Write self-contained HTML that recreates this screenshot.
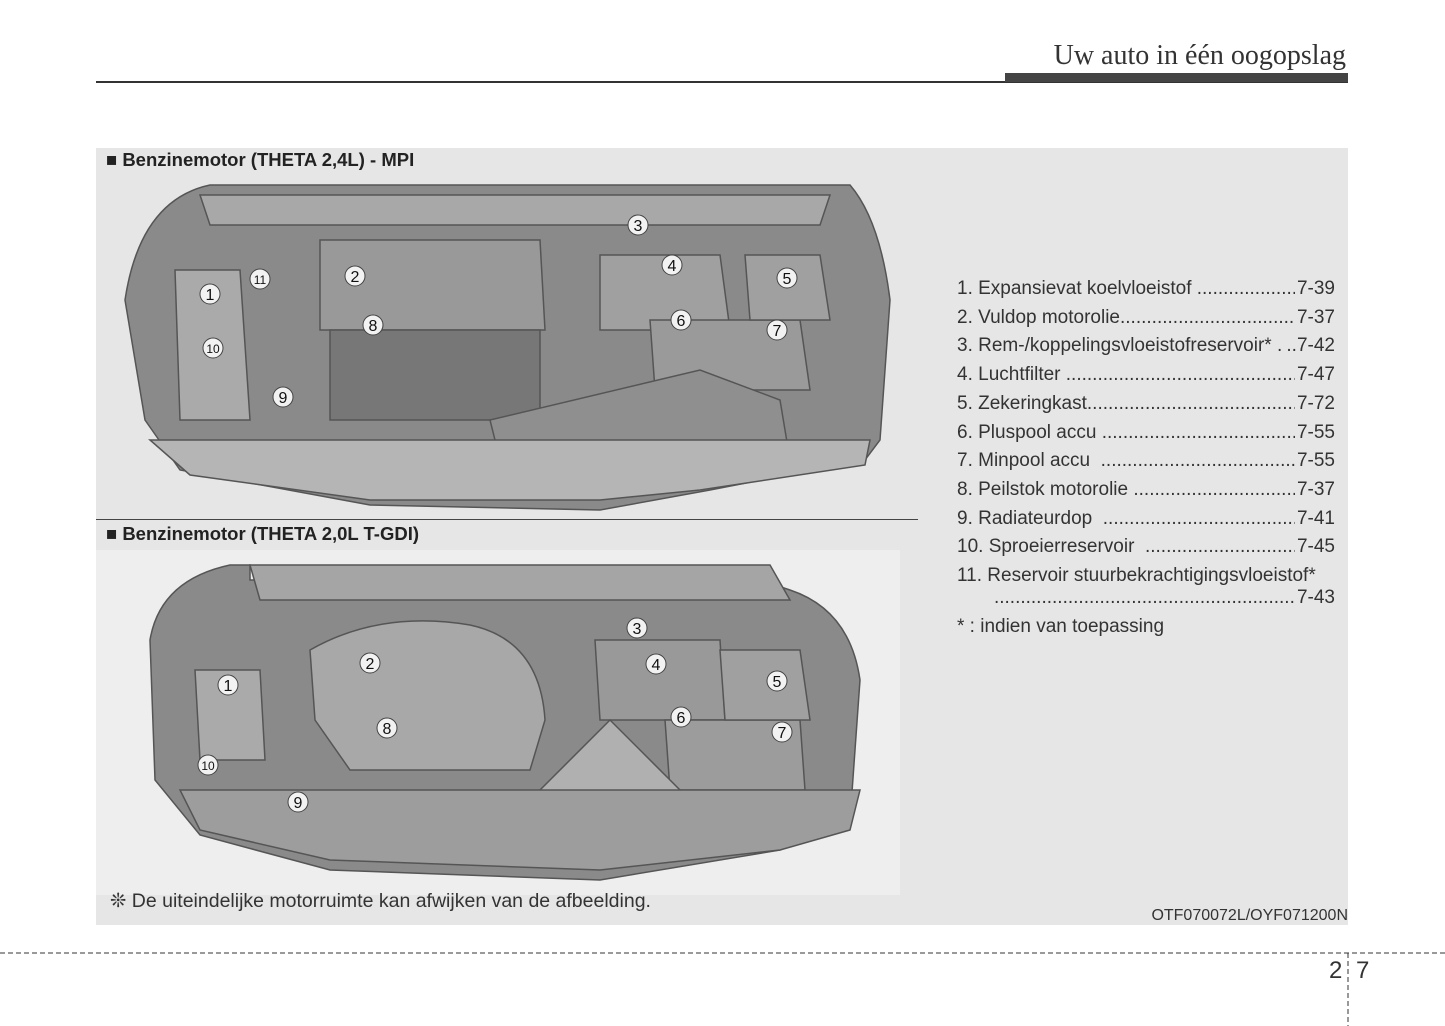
<!DOCTYPE html>
<html><head><meta charset="utf-8"><style>
body{margin:0;width:1445px;height:1026px;background:#fff;position:relative;overflow:hidden;font-family:"Liberation Sans",Arial,sans-serif;color:#222}
.a{position:absolute}
.title{right:99px;top:40px;font-family:"Liberation Serif",serif;font-size:28px;color:#333}
.h{font-weight:bold;font-size:18.5px}
.li{position:absolute;left:957px;width:378px;font-size:19px;height:22px;line-height:22px;overflow:hidden;white-space:nowrap;color:#333}
.li .d{position:absolute;right:0;top:0;background:#e6e6e6;padding-left:2px}
</style></head><body>
<div class="a title">Uw auto in één oogopslag</div>
<div class="a" style="left:96px;top:81px;width:1252px;height:2px;background:#333"></div>
<div class="a" style="left:1005px;top:73px;width:343px;height:9px;background:#444"></div>
<div class="a" style="left:96px;top:148px;width:1252px;height:777px;background:#e6e6e6"></div>
<div class="a h" style="left:106px;top:149px">■ Benzinemotor (THETA 2,4L) - MPI</div>
<div class="a" style="left:96px;top:519px;width:822px;height:1px;background:#444"></div>
<div class="a h" style="left:106px;top:523px">■ Benzinemotor (THETA 2,0L T-GDI)</div>
<div class="a" style="left:96px;top:550px;width:804px;height:345px;background:#eeeeee"></div>
<svg class="a" style="left:0;top:0" width="1445" height="1026">
<g stroke="#555" stroke-width="1.5">
<path d="M125 300 Q140 200 210 185 L850 185 Q880 220 890 300 L880 440 L865 460 L710 490 L600 510 L370 505 L180 470 L145 420 Z" fill="#8a8a8a"/>
<path d="M200 195 L830 195 L820 225 L210 225 Z" fill="#a8a8a8"/>
<path d="M320 240 L540 240 L545 330 L320 330 Z" fill="#999"/>
<path d="M330 330 L540 330 L540 420 L330 420 Z" fill="#777"/>
<path d="M175 270 L240 270 L250 420 L180 420 Z" fill="#aaa"/>
<path d="M600 255 L720 255 L730 330 L600 330 Z" fill="#a0a0a0"/>
<path d="M650 320 L800 320 L810 390 L655 390 Z" fill="#9a9a9a"/>
<path d="M745 255 L820 255 L830 320 L750 320 Z" fill="#a0a0a0"/>
<path d="M490 420 L700 370 L780 400 L790 460 L590 470 L495 440 Z" fill="#8f8f8f"/>
<path d="M150 440 L870 440 L865 465 L700 490 L600 500 L370 500 L190 475 Z" fill="#b5b5b5"/>
<path d="M150 640 Q160 580 230 565 L250 565 L250 580 L760 580 L790 590 Q850 610 860 680 L850 820 L780 850 L600 880 L330 870 L200 835 L155 780 Z" fill="#8a8a8a"/>
<path d="M250 565 L770 565 L790 600 L260 600 Z" fill="#a5a5a5"/>
<path d="M310 650 Q380 610 470 625 Q540 640 545 720 L530 770 L350 770 L315 720 Z" fill="#a8a8a8"/>
<path d="M195 670 L260 670 L265 760 L200 760 Z" fill="#aaa"/>
<path d="M595 640 L720 640 L725 720 L600 720 Z" fill="#999"/>
<path d="M665 720 L800 720 L805 790 L670 790 Z" fill="#9c9c9c"/>
<path d="M720 650 L800 650 L810 720 L725 720 Z" fill="#a0a0a0"/>
<path d="M540 790 L610 720 L680 790 L670 850 L545 850 Z" fill="#b0b0b0"/>
<path d="M180 790 L860 790 L850 830 L780 850 L600 870 L330 860 L200 830 Z" fill="#9d9d9d"/>
</g>
<g fill="#f2f2f2" stroke="#444" font-family="Liberation Sans,sans-serif" font-size="16" text-anchor="middle">
<g><circle cx="638" cy="225" r="10"/><circle cx="355" cy="276" r="10"/><circle cx="260" cy="279" r="10"/><circle cx="210" cy="294" r="10"/><circle cx="672" cy="265" r="10"/><circle cx="787" cy="278" r="10"/><circle cx="681" cy="320" r="10"/><circle cx="777" cy="330" r="10"/><circle cx="373" cy="325" r="10"/><circle cx="213" cy="348" r="10"/><circle cx="283" cy="397" r="10"/>
<circle cx="637" cy="628" r="10"/><circle cx="370" cy="663" r="10"/><circle cx="656" cy="664" r="10"/><circle cx="228" cy="685" r="10"/><circle cx="777" cy="681" r="10"/><circle cx="681" cy="717" r="10"/><circle cx="387" cy="728" r="10"/><circle cx="782" cy="732" r="10"/><circle cx="208" cy="765" r="10"/><circle cx="298" cy="802" r="10"/></g>
<g fill="#111" stroke="none"><text x="638" y="231">3</text><text x="355" y="282">2</text><text x="260" y="284" font-size="12">11</text><text x="210" y="300">1</text><text x="672" y="271">4</text><text x="787" y="284">5</text><text x="681" y="326">6</text><text x="777" y="336">7</text><text x="373" y="331">8</text><text x="213" y="353" font-size="12">10</text><text x="283" y="403">9</text>
<text x="637" y="634">3</text><text x="370" y="669">2</text><text x="656" y="670">4</text><text x="228" y="691">1</text><text x="777" y="687">5</text><text x="681" y="723">6</text><text x="387" y="734">8</text><text x="782" y="738">7</text><text x="208" y="770" font-size="12">10</text><text x="298" y="808">9</text></g>
</g>
<line x1="0" y1="953" x2="1445" y2="953" stroke="#333" stroke-dasharray="5,3"/>
<line x1="1348" y1="953" x2="1348" y2="1026" stroke="#333" stroke-dasharray="5,3"/>
</svg>
<div class="li" style="top:278px">1. Expansievat koelvloeistof ..........................................................<span class="d">7-39</span></div>
<div class="li" style="top:307px">2. Vuldop motorolie..........................................................<span class="d">7-37</span></div>
<div class="li" style="top:335px">3. Rem-/koppelingsvloeistofreservoir* ..........................<span class="d">..7-42</span></div>
<div class="li" style="top:364px">4. Luchtfilter .........................................................................<span class="d">7-47</span></div>
<div class="li" style="top:393px">5. Zekeringkast......................................................................<span class="d">7-72</span></div>
<div class="li" style="top:422px">6. Pluspool accu ....................................................................<span class="d">7-55</span></div>
<div class="li" style="top:450px">7. Minpool accu &nbsp;...................................................................<span class="d">7-55</span></div>
<div class="li" style="top:479px">8. Peilstok motorolie ..............................................................<span class="d">7-37</span></div>
<div class="li" style="top:508px">9. Radiateurdop &nbsp;....................................................................<span class="d">7-41</span></div>
<div class="li" style="top:536px">10. Sproeierreservoir &nbsp;...............................................................<span class="d">7-45</span></div>
<div class="li" style="top:565px">11. Reservoir stuurbekrachtigingsvloeistof*</div>
<div class="li" style="top:587px">&nbsp;&nbsp;&nbsp;&nbsp;&nbsp;&nbsp;&nbsp;...................................................................................<span class="d">7-43</span></div>
<div class="li" style="top:616px">* : indien van toepassing</div>
<div class="a" style="left:110px;top:889px;font-size:19.5px;color:#333">❊ De uiteindelijke motorruimte kan afwijken van de afbeelding.</div>
<div class="a" style="right:97px;top:907px;font-size:16px;color:#333">OTF070072L/OYF071200N</div>
<div class="a" style="left:1329px;top:957px;font-size:24px;color:#333">2</div>
<div class="a" style="left:1356px;top:957px;font-size:24px;color:#333">7</div>
</body></html>
